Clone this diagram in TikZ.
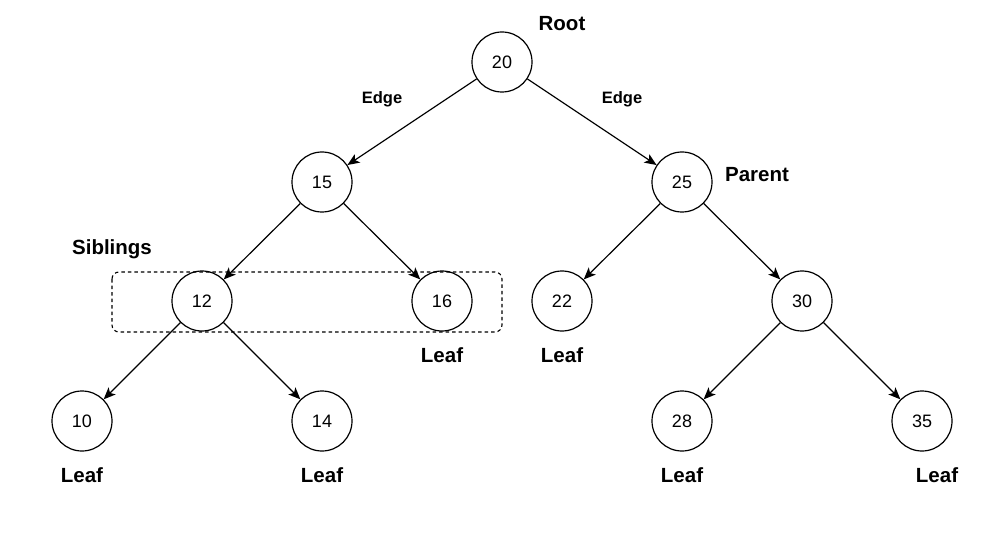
\documentclass[tikz,border=0pt]{standalone}
\usepackage{fontspec}
\setmainfont{Liberation Sans}
\usetikzlibrary{arrows.meta}
\begin{document}
\begin{tikzpicture}[x=1pt,y=-1pt,
  vnode/.style={circle,draw,line width=1.2pt,minimum size=60pt,inner sep=0pt,font=\fontsize{18}{18}\selectfont},
  lbl/.style={font=\fontsize{20.5}{20.5}\selectfont\bfseries},
  elbl/.style={font=\fontsize{16.5}{16.5}\selectfont\bfseries},
  edge/.style={line width=1.2pt,-{Stealth[length=12pt,width=10pt,inset=3pt]}}]
\useasboundingbox (0,0) rectangle (998,537);
\node[vnode] (n20) at (502,62) {20};
\node[vnode] (n15) at (322,182) {15};
\node[vnode] (n25) at (682,182) {25};
\node[vnode] (n12) at (202,301) {12};
\node[vnode] (n16) at (442,301) {16};
\node[vnode] (n22) at (562,301) {22};
\node[vnode] (n30) at (802,301) {30};
\node[vnode] (n10) at (82,421) {10};
\node[vnode] (n14) at (322,421) {14};
\node[vnode] (n28) at (682,421) {28};
\node[vnode] (n35) at (922,421) {35};
\draw[line width=1.1pt,dash pattern=on 3.5pt off 3pt,rounded corners=7pt] (112,272) rectangle (502,332);
\draw[edge] (n20) -- (n15);
\draw[edge] (n20) -- (n25);
\draw[edge] (n15) -- (n12);
\draw[edge] (n15) -- (n16);
\draw[edge] (n25) -- (n22);
\draw[edge] (n25) -- (n30);
\draw[edge] (n12) -- (n10);
\draw[edge] (n12) -- (n14);
\draw[edge] (n30) -- (n28);
\draw[edge] (n30) -- (n35);
\node[lbl] (root) at (562,24) {Root};
\node[elbl] (e1) at (382,99) {Edge};
\node[elbl] (e2) at (622,99) {Edge};
\node[lbl] (par) at (757,175) {Parent};
\node[lbl] (sib) at (112,249) {Siblings};
\node[lbl] (l16) at (442,355) {Leaf};
\node[lbl] (l22) at (562,355) {Leaf};
\node[lbl] (l10) at (82,475) {Leaf};
\node[lbl] (l14) at (322,475) {Leaf};
\node[lbl] (l28) at (682,475) {Leaf};
\node[lbl] (l35) at (937,475) {Leaf};
\end{tikzpicture}
\end{document}
